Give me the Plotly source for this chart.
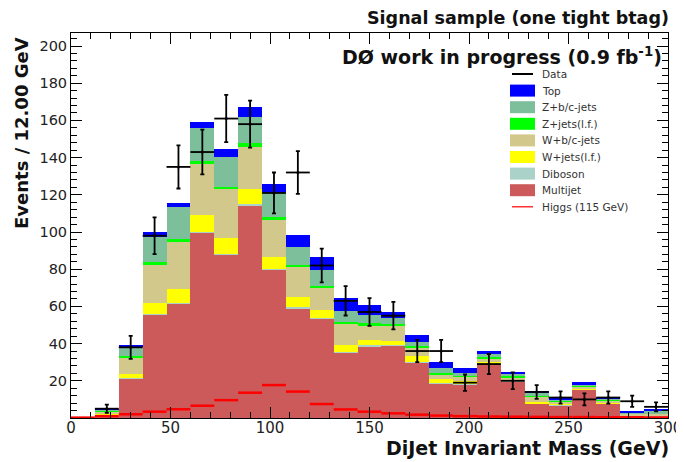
import numpy as np
import plotly.graph_objects as go

# ---------------- data ----------------
bin_width = 12.0
n_bins = 25
edges = np.arange(n_bins + 1) * bin_width
centers = edges[:-1] + bin_width / 2

multijet = [0.3, 1.5, 21.1, 55.6, 61.3, 99.8, 87.8, 114.5, 79.7, 59.1, 53.5, 35.2, 38.6,
            38.8, 30.0, 18.3, 18.0, 29.1, 19.8, 7.6, 6.8, 15.2, 7.8, 1.3, 1.0]
diboson = [0.0, 0.1, 0.2, 0.3, 0.3, 0.4, 0.4, 0.4, 0.4, 0.4, 0.4, 0.4, 0.4,
           0.4, 0.3, 0.3, 0.3, 0.3, 0.2, 0.2, 0.2, 0.2, 0.2, 0.1, 0.3]
wjets_lf = [0.0, 0.3, 2.5, 5.7, 7.6, 8.9, 8.4, 8.1, 6.6, 5.7, 4.1, 3.6, 3.1,
            2.3, 3.0, 2.2, 1.5, 0.8, 0.7, 1.0, 0.6, 0.6, 0.5, 0.2, 0.2]
wbc_jets = [0.2, 1.8, 8.6, 20.6, 25.2, 27.5, 26.4, 22.9, 19.8, 15.8, 12.0, 11.7, 7.5,
            8.0, 4.5, 2.8, 2.5, 1.8, 1.3, 2.5, 1.4, 1.0, 0.9, 0.6, 0.7]
zjets_lf = [0.0, 0.2, 1.2, 1.8, 1.8, 1.8, 1.4, 1.8, 1.7, 1.2, 1.1, 0.8, 1.3,
            1.2, 0.8, 0.6, 0.5, 0.9, 0.6, 0.8, 0.5, 0.5, 0.4, 0.3, 0.3]
zbc_jets = [0.0, 0.4, 4.5, 13.5, 17.1, 17.4, 16.1, 14.3, 13.5, 9.6, 8.5, 5.9, 4.6,
            2.9, 2.4, 2.5, 1.5, 1.5, 1.0, 1.2, 0.7, 0.7, 0.5, 0.5, 1.0]
top = [0.0, 0.2, 1.3, 2.3, 2.5, 3.2, 4.0, 5.4, 4.1, 6.6, 7.1, 7.0, 5.5,
       3.4, 3.4, 3.5, 2.4, 1.8, 1.3, 1.2, 0.8, 1.0, 0.7, 1.0, 1.5]
higgs = [0.2, 1.0, 2.0, 3.4, 4.7, 6.6, 9.6, 13.6, 17.7, 14.2, 7.5, 4.6, 3.4,
         2.5, 1.8, 1.3, 1.0, 0.8, 0.7, 0.6, 0.5, 0.5, 0.4, 0.4, 0.3]
data = [0, 5, 38, 98, 135, 143, 161, 158, 121, 132, 82, 63, 57,
        55, 36, 36, 19, 29, 20, 14, 11, 10, 11, 9, 6]
data_err = [0, 2.2, 6.2, 9.9, 11.6, 12.0, 12.7, 12.6, 11.0, 11.5, 9.1, 7.9, 7.5,
            7.4, 6.0, 6.0, 4.4, 5.4, 4.5, 3.7, 3.3, 3.2, 3.3, 3.0, 2.4]

components = [
    ("Multijet", multijet, "#cd5a5a"),
    ("Diboson", diboson, "#aad2c8"),
    ("W+jets(l.f.)", wjets_lf, "#ffff00"),
    ("W+b/c-jets", wbc_jets, "#d2c88c"),
    ("Z+jets(l.f.)", zjets_lf, "#00ff00"),
    ("Z+b/c-jets", zbc_jets, "#7dbe9b"),
    ("Top", top, "#0000ff"),
]

fig = go.Figure()
for name, vals, col in components:
    fig.add_trace(go.Bar(x=centers, y=vals, width=bin_width, name=name,
                         marker=dict(color=col, line=dict(width=0)),
                         showlegend=False))

# Higgs histogram drawn as horizontal segments per bin
hx, hy = [], []
for i in range(n_bins):
    hx += [edges[i], edges[i + 1], None]
    hy += [higgs[i], higgs[i], None]
fig.add_trace(go.Scatter(x=hx, y=hy, mode="lines", name="Higgs (115 GeV)",
                         line=dict(color="#ff0000", width=2.5), showlegend=False))

# data points
dx = [c for c, d in zip(centers, data) if d > 0]
dy = [d for d in data if d > 0]
de = [e for e, d in zip(data_err, data) if d > 0]
fig.add_trace(go.Scatter(x=dx, y=dy, mode="markers", name="Data",
                         marker=dict(color="black", size=3),
                         error_y=dict(type="data", array=de, color="black", thickness=1.8, width=2),
                         error_x=dict(type="constant", value=bin_width / 2, color="black", thickness=1.8, width=0),
                         showlegend=False))

# ---------------- layout ----------------
# the page body has an 8px default margin, so the figure is drawn 8px in
# from the top-left corner; pixel positions below are window positions.
OFF = 8
W, H = 684 - OFF, 462 - OFF
L, R, T, B = 71 - OFF, 16, 33 - OFF, 44
pw, ph = W - L - R, H - T - B

def px(xp):
    return (xp - OFF - L) / pw

def py(yp):
    return (OFF + H - B - yp) / ph

tick_font_x = dict(family="DejaVu Sans", size=15, color="#222")
tick_font_y = dict(family="DejaVu Sans", size=14.5, color="#222")

fig.update_layout(
    width=W, height=H, margin=dict(l=L, r=R, t=T, b=B),
    barmode="stack", bargap=0,
    plot_bgcolor="white", paper_bgcolor="white",
    xaxis=dict(range=[0, 300], tickvals=[0, 50, 100, 150, 200, 250, 300],
               ticks="inside", ticklen=11, tickwidth=1, tickcolor="black",
               minor=dict(dtick=10, ticks="inside", ticklen=6, tickcolor="black"),
               showline=True, linecolor="black", linewidth=1, mirror="allticks",
               showgrid=False, zeroline=False, tickfont=tick_font_x,
               automargin=False, ticklabelstandoff=-4, ticklabeloverflow="allow"),
    yaxis=dict(range=[0, 207], tickvals=list(range(20, 201, 20)),
               ticks="inside", ticklen=11, tickwidth=1, tickcolor="black",
               minor=dict(dtick=4, ticks="inside", ticklen=6, tickcolor="black"),
               showline=True, linecolor="black", linewidth=1, mirror="allticks",
               showgrid=False, zeroline=False, tickfont=tick_font_y,
               automargin=False, ticklabeloverflow="allow"),
)

def tfont(size):
    return dict(family="DejaVu Sans", size=size, color="#111")

ann = [
    dict(text="<b>Signal sample (one tight btag)</b>", x=px(671), y=py(18),
         xanchor="right", yanchor="middle", font=tfont(17.5)),
    dict(text="<b>DØ work in progress (0.9 fb<sup>-1</sup>)</b>", x=px(664), y=py(56),
         xanchor="right", yanchor="middle", font=tfont(19)),
    dict(text="<b>DiJet Invariant Mass (GeV)</b>", x=px(671), y=py(448),
         xanchor="right", yanchor="middle", font=tfont(19)),
    dict(text="<b>Events / 12.00 GeV</b>", x=px(21), y=py(35), textangle=-90,
         xanchor="center", yanchor="top", font=tfont(18)),
]

# legend (drawn manually, ROOT style)
leg_rows = [
    ("Data", None, "line", "black"),
    ("Top", "#0000ff", "box", None),
    ("Z+b/c-jets", "#7dbe9b", "box", None),
    ("Z+jets(l.f.)", "#00ff00", "box", None),
    ("W+b/c-jets", "#d2c88c", "box", None),
    ("W+jets(l.f.)", "#ffff00", "box", None),
    ("Diboson", "#aad2c8", "box", None),
    ("Multijet", "#cd5a5a", "box", None),
    ("Higgs (115 GeV)", None, "line", "#ff0000"),
]
row_y0, row_dy = 74, 16.6
shapes = []
leg_font = dict(family="DejaVu Sans", size=10.5, color="#333")
for i, (lab, fill, kind, lcol) in enumerate(leg_rows):
    yc = row_y0 + i * row_dy
    if kind == "box":
        shapes.append(dict(type="rect", xref="paper", yref="paper",
                           x0=px(510), x1=px(535), y0=py(yc + 6), y1=py(yc - 6),
                           fillcolor=fill, line=dict(width=0)))
    else:
        shapes.append(dict(type="line", xref="paper", yref="paper",
                           x0=px(512), x1=px(533), y0=py(yc), y1=py(yc),
                           line=dict(color=lcol, width=2 if lab == "Data" else 1.2)))
    ann.append(dict(text=lab, x=px(540), y=py(yc), xanchor="left", yanchor="middle",
                    font=leg_font))

for a in ann:
    a.update(xref="paper", yref="paper", showarrow=False)
fig.update_layout(annotations=ann, shapes=shapes)

fig.write_html("out.html")
